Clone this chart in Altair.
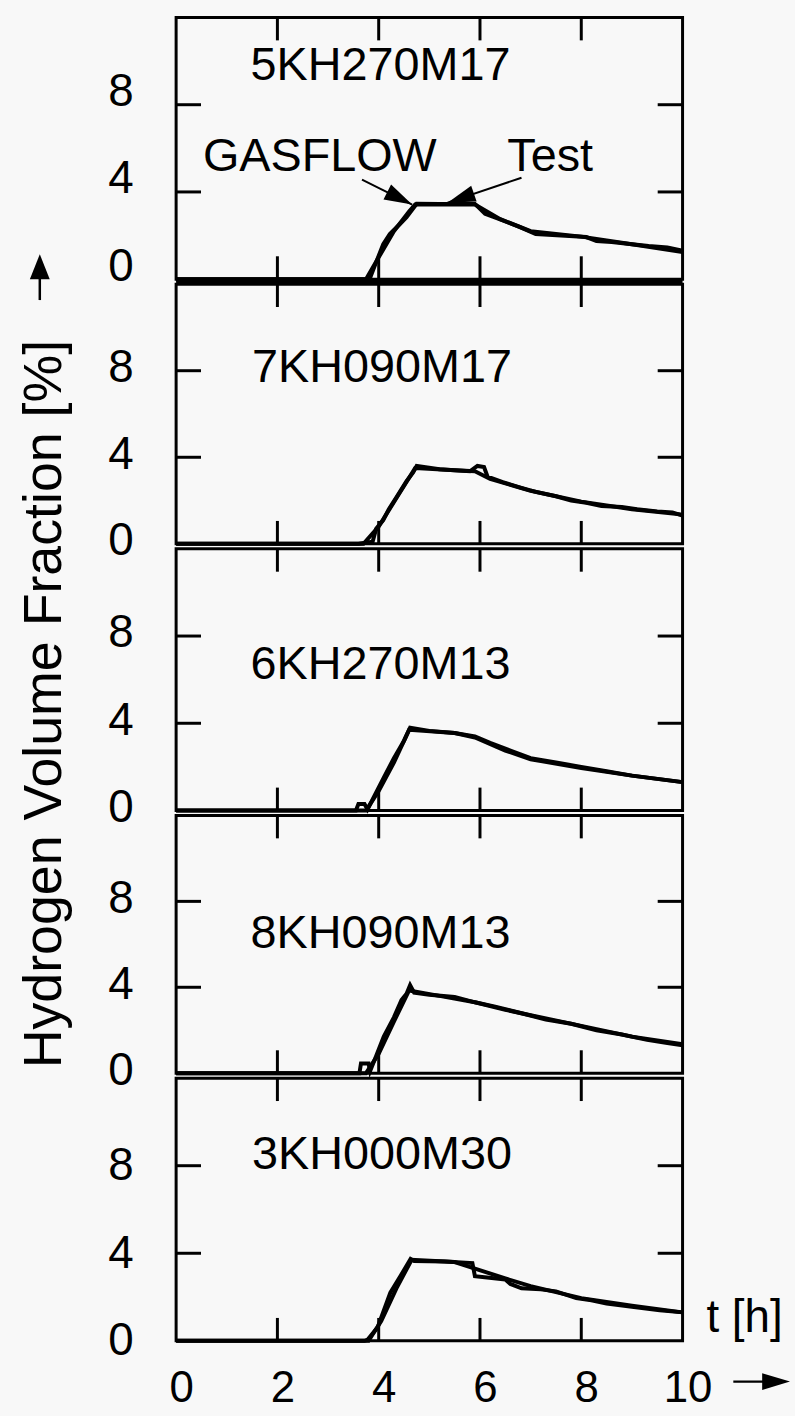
import altair as alt
import pandas as pd

FONT = "Liberation Sans"
INK = "black"

# ---- data ---------------------------------------------------------------
names = ["5KH270M17", "7KH090M17", "6KH270M13", "8KH090M13", "3KH000M30"]

# measured hydrogen volume fraction [%] vs. time [h]
test_t = [
    [0, 3.82, 3.96, 4.09, 4.22, 4.42, 4.55, 4.75, 5.2, 5.9, 6.1, 6.45, 6.78, 7.1, 7.6, 8.1, 8.3, 8.6, 9.0, 9.33, 9.7, 10],
    [0, 3.6, 3.88, 3.95, 4.09, 4.2, 4.35, 4.55, 4.68, 4.75, 5.2, 5.8, 5.95, 6.08, 6.15, 6.45, 6.8, 7.1, 7.5, 7.8, 8.1, 8.4, 8.8, 9.1, 9.5, 9.8, 10],
    [0, 3.55, 3.6, 3.72, 3.78, 3.9, 4.1, 4.3, 4.5, 4.62, 5.0, 5.5, 5.9, 6.2, 6.6, 7.0, 7.5, 8.0, 8.5, 9.0, 9.5, 10],
    [0, 3.62, 3.65, 3.8, 3.83, 3.95, 4.1, 4.3, 4.45, 4.55, 4.62, 4.7, 5.0, 5.5, 5.9, 6.3, 6.8, 7.3, 7.8, 8.3, 8.8, 9.3, 9.7, 10],
    [0, 3.72, 3.78, 3.98, 4.23, 4.43, 4.63, 4.7, 5.3, 5.85, 5.9, 6.5, 6.6, 6.82, 7.2, 7.5, 7.9, 8.2, 8.5, 9.0, 9.55, 10],
]
test_v = [
    [0, 0, 0.84, 1.6, 2.07, 2.53, 2.84, 3.46, 3.45, 3.45, 3.0, 2.7, 2.4, 2.07, 2.0, 1.93, 1.75, 1.7, 1.6, 1.52, 1.45, 1.3],
    [0, 0, 0.1, 0.7, 1.1, 1.6, 2.15, 2.9, 3.3, 3.6, 3.45, 3.35, 3.6, 3.55, 3.1, 2.85, 2.6, 2.4, 2.2, 2.0, 1.9, 1.75, 1.7, 1.6, 1.5, 1.45, 1.3],
    [0, 0, 0.3, 0.3, 0.05, 0.6, 1.5, 2.4, 3.2, 3.8, 3.65, 3.55, 3.4, 3.1, 2.75, 2.4, 2.2, 2.0, 1.8, 1.6, 1.45, 1.3],
    [0, 0, 0.45, 0.45, 0.1, 0.8, 1.7, 2.6, 3.4, 3.7, 4.1, 3.75, 3.65, 3.55, 3.3, 3.1, 2.8, 2.5, 2.3, 2.0, 1.8, 1.55, 1.4, 1.3],
    [0, 0, 0.05, 0.62, 2.2, 2.96, 3.74, 3.65, 3.62, 3.55, 2.95, 2.8, 2.6, 2.4, 2.35, 2.26, 1.95, 1.85, 1.7, 1.55, 1.4, 1.3],
]

# GASFLOW simulation
gas_t = [
    [0, 3.75, 4.0, 4.3, 4.6, 4.72, 5.9, 6.4, 7.0, 8.0, 9.0, 10],
    [0, 3.7, 4.0, 4.4, 4.72, 5.5, 5.9, 6.2, 7.0, 8.0, 9.0, 10],
    [0, 3.75, 4.0, 4.3, 4.6, 5.5, 5.9, 6.5, 7.0, 8.0, 9.0, 10],
    [0, 3.75, 4.0, 4.3, 4.6, 5.2, 5.9, 6.5, 7.0, 8.0, 9.0, 10],
    [0, 3.8, 4.05, 4.35, 4.65, 5.5, 5.9, 6.5, 7.0, 8.0, 9.0, 10],
]
gas_v = [
    [0, 0, 1.0, 2.2, 3.1, 3.42, 3.42, 2.75, 2.2, 1.95, 1.6, 1.25],
    [0, 0, 0.8, 2.3, 3.5, 3.4, 3.35, 3.0, 2.45, 1.95, 1.6, 1.35],
    [0, 0, 0.9, 2.2, 3.7, 3.55, 3.35, 2.75, 2.35, 1.95, 1.6, 1.3],
    [0, 0, 0.9, 2.4, 3.85, 3.6, 3.3, 2.95, 2.7, 2.2, 1.7, 1.35],
    [0, 0, 0.9, 2.4, 3.7, 3.6, 3.3, 2.85, 2.5, 1.95, 1.6, 1.3],
]

# case label position in data units (t, value)
label_t = [1.47, 1.5, 1.47, 1.47, 1.5]
label_v = [9.76, 8.12, 6.67, 6.5, 8.48]

x_ticks = [2, 4, 6, 8]
y_ticks = [4, 8]
y_labels = [0, 4, 8]
x_labels = [0, 2, 4, 6, 8, 10]

# annotation in the first panel
ann_text = ["GASFLOW", "Test"]
ann_t = [0.53, 6.54]
ann_v = [5.6, 5.6]
arrow_t0 = [3.67, 6.82]
arrow_v0 = [4.56, 4.65]
arrow_t1 = [4.66, 5.36]
arrow_v1 = [3.42, 3.51]
arrow_angle = [117, 251]

# ---- layout -------------------------------------------------------------
W = 509
heights = [263, 261, 263, 259, 264]
tops = [12, 280, 546, 814, 1078]
label_shift = [-13, -3, -3, -3, 0]
TICK = 23
GAP = 5


def head_path(half):
    return f"M0,0L{half},2L-{half},2Z"


def panel(i):
    H = heights[i]
    last = i == len(names) - 1
    xaxis = (
        alt.Axis(values=x_labels, ticks=False, domain=False, grid=False, title=None,
                 labelFont=FONT, labelFontSize=44, labelColor=INK, labelPadding=26,
                 labelOffset=5, labelFlush=False)
        if last else None
    )
    yaxis = alt.Axis(values=y_labels, ticks=False, domain=False, grid=False, title=None,
                     labelFont=FONT, labelFontSize=46, labelColor=INK, labelPadding=43,
                     labelOffset=label_shift[i])
    xe = alt.X("t:Q", scale=alt.Scale(domain=[0, 10], nice=False, zero=False), axis=xaxis)
    ye = alt.Y("v:Q", scale=alt.Scale(domain=[0, 12], nice=False), axis=yaxis)

    df = pd.concat([
        pd.DataFrame({"t": test_t[i], "v": test_v[i], "s": "Test"}),
        pd.DataFrame({"t": gas_t[i], "v": gas_v[i], "s": "GASFLOW"}),
    ])
    lines = alt.Chart(df).mark_line(color=INK, strokeWidth=4).encode(
        x=xe, y=ye, detail="s:N")

    xt = pd.DataFrame({"t": x_ticks})
    yt = pd.DataFrame({"v": y_ticks})
    rule = dict(color=INK, strokeWidth=3)
    bottom = alt.Chart(xt).mark_rule(**rule).encode(x=xe, y=alt.value(H), y2=alt.value(H - TICK))
    top = alt.Chart(xt).mark_rule(**rule).encode(x=xe, y=alt.value(0), y2=alt.value(TICK))
    left = alt.Chart(yt).mark_rule(**rule).encode(y=ye, x=alt.value(0), x2=alt.value(TICK + 2))
    right = alt.Chart(yt).mark_rule(**rule).encode(y=ye, x=alt.value(W - TICK - 2), x2=alt.value(W))

    lab = alt.Chart(pd.DataFrame({"t": [label_t[i]], "v": [label_v[i]], "txt": [names[i]]})).mark_text(
        align="left", baseline="middle", font=FONT, fontSize=47, color=INK
    ).encode(x=xe, y=ye, text="txt:N")

    layers = [lines, bottom, top, left, right, lab]
    one = pd.DataFrame({"k": [0]})

    if i == 0:
        # heavy bar joining the first two cases
        layers.append(alt.Chart(one).mark_rule(color=INK, strokeWidth=6).encode(
            x=alt.value(0), x2=alt.value(W), y=alt.value(H + GAP / 2), y2=alt.value(H + GAP / 2)))
        ann = pd.DataFrame({"t": ann_t, "v": ann_v, "txt": ann_text})
        layers.append(alt.Chart(ann).mark_text(
            align="left", baseline="middle", font=FONT, fontSize=47, color=INK
        ).encode(x=xe, y=ye, text="txt:N"))
        shafts = pd.DataFrame({"t": arrow_t0, "v": arrow_v0, "t2": arrow_t1, "v2": arrow_v1})
        layers.append(alt.Chart(shafts).mark_rule(color=INK, strokeWidth=2).encode(
            x=xe, y=ye, x2="t2:Q", y2="v2:Q"))
        heads = pd.DataFrame({"t": arrow_t1, "v": arrow_v1, "a": arrow_angle})
        layers.append(alt.Chart(heads).mark_point(
            shape=head_path(0.6), size=784, filled=True, color=INK, opacity=1, strokeWidth=0
        ).encode(x=xe, y=ye, angle=alt.Angle("a:Q", scale=None)))
        # upward arrow beside the vertical title
        layers.append(alt.Chart(one).mark_rule(color=INK, strokeWidth=2.5).encode(
            x=alt.value(-137), x2=alt.value(-137), y=alt.value(258), y2=alt.value(284)))
        layers.append(alt.Chart(one).mark_point(
            shape=head_path(0.8), size=625, filled=True, color=INK, opacity=1, strokeWidth=0
        ).encode(x=alt.value(-137), y=alt.value(238)))
        # invisible anchor fixing the page origin
        layers.append(alt.Chart(one).mark_rule(strokeOpacity=0, color=INK).encode(
            x=alt.value(-175), x2=alt.value(-174), y=alt.value(-12), y2=alt.value(-11)))

    if i == 2:
        layers.append(alt.Chart(one).mark_text(
            text="Hydrogen Volume Fraction [%]", angle=270, align="center",
            baseline="alphabetic", font=FONT, fontSize=54, color=INK
        ).encode(x=alt.value(-116), y=alt.value(702 - tops[2])))

    if last:
        layers.append(alt.Chart(one).mark_text(
            text="t [h]", align="left", baseline="alphabetic", font=FONT, fontSize=46, color=INK
        ).encode(x=alt.value(533), y=alt.value(1333 - tops[4])))
        ay = 1383 - tops[4]
        layers.append(alt.Chart(one).mark_rule(color=INK, strokeWidth=2.5).encode(
            x=alt.value(560), x2=alt.value(592), y=alt.value(ay), y2=alt.value(ay)))
        layers.append(alt.Chart(one).mark_point(
            shape=head_path(0.6), size=784, filled=True, color=INK, opacity=1, strokeWidth=0, angle=90
        ).encode(x=alt.value(617), y=alt.value(ay)))
        layers.append(alt.Chart(one).mark_rule(strokeOpacity=0, color=INK).encode(
            x=alt.value(619), x2=alt.value(620), y=alt.value(1415 - tops[4]), y2=alt.value(1416 - tops[4])))

    return alt.layer(*layers).properties(width=W, height=H)


panels = [panel(i) for i in range(len(names))]

chart = alt.vconcat(*panels, spacing=GAP, bounds="flush").properties(
    padding=0, background="#f8f8f8"
).configure_view(stroke=INK, strokeWidth=3)

chart.save("out.html", embed_options={"renderer": "svg", "actions": False})
